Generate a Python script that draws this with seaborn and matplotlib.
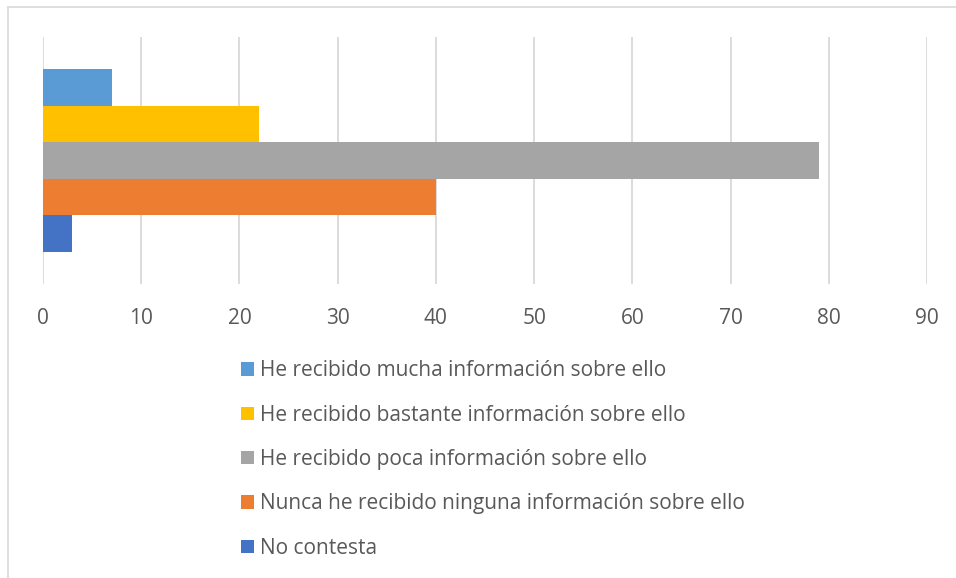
import pandas as pd
import seaborn as sns
from matplotlib import pyplot as plt
from matplotlib.lines import Line2D

# data
series = [
    "He recibido mucha información sobre ello",
    "He recibido bastante información sobre ello",
    "He recibido poca información sobre ello",
    "Nunca he recibido ninguna información sobre ello",
    "No contesta",
]
values = [7, 22, 79, 40, 3]
colors = ["#5B9BD5", "#FFC000", "#A5A5A5", "#ED7D31", "#4472C4"]
ticks = list(range(0, 100, 10))

df = pd.DataFrame({"grupo": ["1"] * len(series), "serie": series, "valor": values})

sns.set_theme(style="white")
plt.rcParams["font.family"] = ["Open Sans", "DejaVu Sans"]

fig = plt.figure(figsize=(9.56, 5.78), dpi=100)
ax = fig.add_axes([43 / 956, 1 - 284 / 578, (927 - 43) / 956, (284 - 37) / 578])

sns.barplot(data=df, x="valor", y="grupo", hue="serie", hue_order=series,
            palette=colors, orient="h", width=0.737, dodge=True,
            saturation=1, linewidth=0, ax=ax, legend=True)

ax.set_xlim(0, 90)
ax.set_xticks(ticks)
ax.set_yticks([])
ax.set_xlabel("")
ax.set_ylabel("")
ax.grid(axis="x", color="#d9d9d9", linewidth=1.3)
ax.set_axisbelow(True)
for s in ax.spines.values():
    s.set_visible(False)
ax.tick_params(axis="x", length=0, pad=17, labelsize=15, labelcolor="#595959")

# legend under the plot, one entry per row
handles, labels = ax.get_legend_handles_labels()
ax.get_legend().remove()
fig.legend(handles, labels, loc="upper left", bbox_to_anchor=(233 / 956, 1 - 352 / 578),
           frameon=False, ncol=1, fontsize=15, labelcolor="#595959",
           handlelength=0.6, handleheight=0.6, handletextpad=0.3,
           labelspacing=1.12, borderaxespad=0)

# light frame of the chart area (left and top edges show)
fig.add_artist(Line2D([8 / 956, 8 / 956], [0, 1 - 7 / 578], color="#d9d9d9", lw=1.2))
fig.add_artist(Line2D([8 / 956, 1], [1 - 7 / 578, 1 - 7 / 578], color="#d9d9d9", lw=1.2))

fig.savefig("out.png", dpi=100, facecolor="white")
